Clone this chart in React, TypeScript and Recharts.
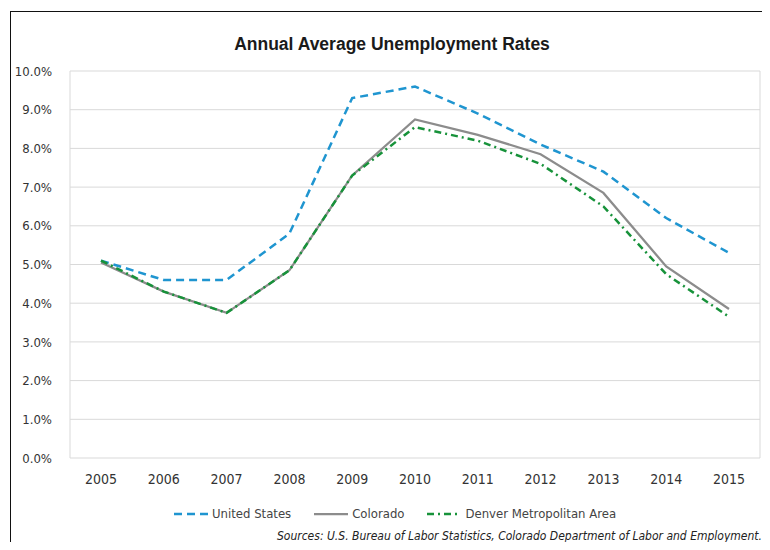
import { CartesianGrid, Line, LineChart, XAxis, YAxis } from 'recharts'

const years = ['2005', '2006', '2007', '2008', '2009', '2010', '2011', '2012', '2013', '2014', '2015']
const unitedStates = [5.1, 4.6, 4.6, 5.8, 9.3, 9.6, 8.9, 8.1, 7.4, 6.2, 5.3]
const colorado = [5.05, 4.3, 3.75, 4.85, 7.3, 8.75, 8.35, 7.85, 6.85, 4.95, 3.85]
const denver = [5.1, 4.3, 3.75, 4.85, 7.3, 8.55, 8.2, 7.6, 6.5, 4.75, 3.65]
const yTicks = [0, 1, 2, 3, 4, 5, 6, 7, 8, 9, 10]

const series = [
  { key: 'us', name: 'United States', color: '#1f95d0', dash: '8 5', width: 2.5 },
  { key: 'co', name: 'Colorado', color: '#8c8c8c', dash: undefined, width: 2.25 },
  { key: 'den', name: 'Denver Metropolitan Area', color: '#17923a', dash: '7 4 2 4', width: 2.5 },
]

const data = years.map((year, i) => ({
  year,
  us: unitedStates[i],
  co: colorado[i],
  den: denver[i],
}))

const font = "'Liberation Sans', Arial, sans-serif"
const narrow = "'DejaVu Sans Condensed', 'Liberation Sans', sans-serif"

export default function App() {
  return (
    <div style={{ position: 'relative', width: 770, height: 550, margin: -8, overflow: 'hidden', background: '#fff' }}>
      <div
        style={{
          position: 'absolute',
          left: 10,
          top: 11,
          width: 800,
          height: 600,
          border: '1.5px solid #111',
        }}
      />
      <div
        style={{
          position: 'absolute',
          left: 0,
          width: 784,
          top: 34,
          textAlign: 'center',
          fontFamily: font,
          fontWeight: 700,
          fontSize: 17.5,
          color: '#1a1a1a',
        }}
      >
        Annual Average Unemployment Rates
      </div>
      <div style={{ position: 'absolute', left: 0, top: 0 }}>
        <LineChart width={770} height={550} data={data} margin={{ top: 71, right: 10, bottom: 62, left: 10 }}>
          <CartesianGrid
            stroke="#d9d9d9"
            verticalCoordinatesGenerator={({ offset }: any) => [offset.left, offset.left + offset.width]}
          />
          <XAxis
            dataKey="year"
            height={30}
            padding={{ left: 31, right: 31 }}
            axisLine={false}
            tickLine={false}
            tickSize={0}
            tickMargin={16}
            tick={{ fontSize: 14, fill: '#333', fontFamily: narrow }}
            interval={0}
          />
          <YAxis
            width={60}
            domain={[0, 10]}
            ticks={yTicks}
            axisLine={false}
            tickLine={false}
            tickSize={0}
            tickMargin={18}
            tickFormatter={(v: number) => `${v.toFixed(1)}%`}
            tick={{ fontSize: 13, fill: '#333', fontFamily: narrow }}
          />
          {series.map((s) => (
            <Line
              key={s.key}
              type="linear"
              dataKey={s.key}
              name={s.name}
              stroke={s.color}
              strokeWidth={s.width}
              strokeDasharray={s.dash}
              dot={false}
              activeDot={false}
              isAnimationActive={false}
            />
          ))}
        </LineChart>
      </div>
      <div
        style={{
          position: 'absolute',
          left: 173,
          top: 506,
          display: 'flex',
          alignItems: 'center',
          gap: 22,
          fontFamily: narrow,
          fontSize: 13,
          color: '#444',
        }}
      >
        {series.map((s) => (
          <div key={s.key} style={{ display: 'flex', alignItems: 'center', gap: 3 }}>
            <svg width={36} height={10}>
              <line
                x1={1}
                y1={5}
                x2={35}
                y2={5}
                stroke={s.color}
                strokeWidth={s.width}
                strokeDasharray={s.dash}
              />
            </svg>
            <span>{s.name}</span>
          </div>
        ))}
      </div>
      <div
        style={{
          position: 'absolute',
          right: 8,
          top: 529,
          lineHeight: '14px',
          fontFamily: narrow,
          fontStyle: 'italic',
          fontSize: 12,
          color: '#222',
        }}
      >
        Sources: U.S. Bureau of Labor Statistics, Colorado Department of Labor and Employment.
      </div>
    </div>
  )
}
